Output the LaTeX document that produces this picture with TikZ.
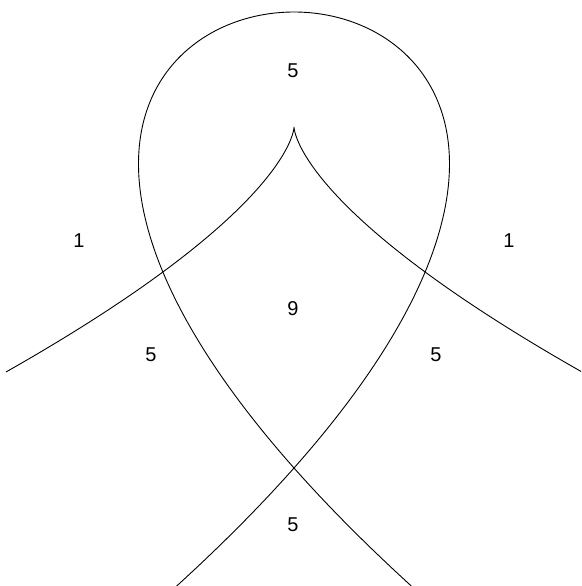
\documentclass[tikz,border=0pt]{standalone}
\usepackage{fontspec}
\setmainfont{Liberation Sans}
\usepackage{tikz}

\begin{document}
\begin{tikzpicture}[
    x=1pt, y=-1pt,
    every node/.style={font=\fontsize{20}{22}\selectfont},
    curveline/.style={black, line width=0.9pt, line join=round},
  ]
  \useasboundingbox (0,0) rectangle (581,586);
  % loop: nodal cubic x = t^3 - 3t, y = t^2
  \draw[curveline] plot[domain=-1.946:1.946, samples=241]
    ({294+77.75*(\x*\x*\x-3*\x)}, {12+152*\x*\x});
  % cusp: x = s^3, y = s^2
  \draw[curveline] plot[domain=-1:1, samples=201]
    ({294+288*\x*\x*\x}, {127+245*\x*\x});

  \node (top)    at (293,71)  {5};
  \node (left)   at (79,241)  {1};
  \node (right)  at (509,241) {1};
  \node (mid)    at (293,309) {9};
  \node (lower1) at (151,355) {5};
  \node (lower2) at (436,355) {5};
  \node (bottom) at (293,525) {5};
\end{tikzpicture}
\end{document}
